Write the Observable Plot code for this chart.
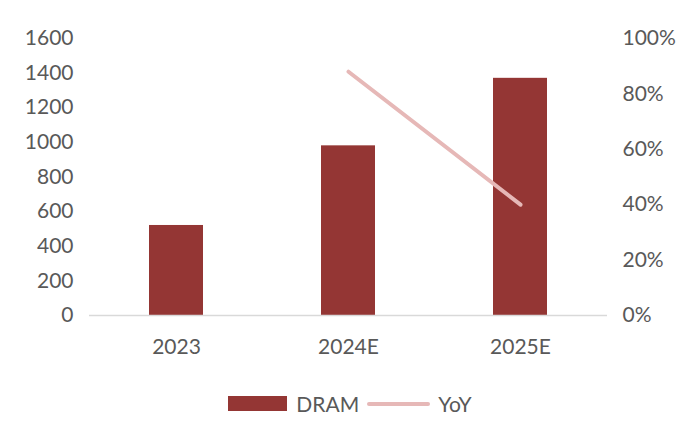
<!DOCTYPE html>
<html><head><meta charset="utf-8">
<script src="https://cdn.jsdelivr.net/npm/d3@7"></script>
<script src="https://cdn.jsdelivr.net/npm/@observablehq/plot@0.6"></script>
<style>
body{margin:0;background:#fff;font-family:Lato,"Open Sans",sans-serif;}
#chart{width:700px;height:447px;position:relative;}
.legend{position:absolute;left:0;top:391px;width:700px;display:flex;justify-content:center;align-items:center;font-size:21px;color:#595959;}
.sw{display:inline-block;width:59px;height:15px;background:#943634;margin-right:9px;}
.ln{display:inline-block;width:63px;height:4px;background:#e6b8b7;border-radius:2px;margin:0 8px 0 8px;}
</style></head>
<body><div id="chart"></div>
<script>
const years = ["2023","2024E","2025E"];
const dram = [520, 980, 1370];
const yoyYears = ["2024E","2025E"];
const yoy = [88, 40];
const leftTicks = [0,200,400,600,800,1000,1200,1400,1600];
const rightTicks = [0,20,40,60,80,100];

const bars = years.map((y,i)=>({year:y, v:dram[i]}));
const line = yoyYears.map((y,i)=>({year:y, p:yoy[i]}));
const k = 1600/100;

const plot = Plot.plot({
  width:700, height:375,
  marginLeft:89, marginRight:93, marginTop:38, marginBottom:60,
  style:{fontFamily:"Lato, 'Open Sans', sans-serif", fontSize:"21px", color:"#595959", background:"#fff"},
  x:{domain:years, paddingInner:0.687, paddingOuter:0.342, label:null},
  y:{domain:[0,1600], label:null},
  marks:[
    Plot.barY(bars,{x:"year", y:"v", fill:"#943634"}),
    Plot.ruleY([0],{stroke:"#d9d9d9", strokeWidth:1.5}),
    Plot.lineY(line,{x:"year", y:d=>d.p*k, stroke:"#e6b8b7", strokeWidth:4, strokeLinecap:"round"}),
    Plot.axisY(leftTicks,{anchor:"left", tickSize:0, tickPadding:16, label:null, tickFormat:d=>String(d), fill:"#595959"}),
    Plot.axisY(rightTicks.map(d=>d*k),{anchor:"right", tickSize:0, tickPadding:15, label:null, tickFormat:d=>Math.round(d/k)+"%", fill:"#595959", textAnchor:"start"}),
    Plot.axisX({tickSize:0, tickPadding:24, label:null, fill:"#595959"})
  ]
});
document.getElementById("chart").appendChild(plot);
const lg = document.createElement("div");
lg.className="legend";
lg.innerHTML='<span class="sw"></span><span>DRAM</span><span class="ln"></span><span>YoY</span>';
document.getElementById("chart").appendChild(lg);
</script></body></html>
